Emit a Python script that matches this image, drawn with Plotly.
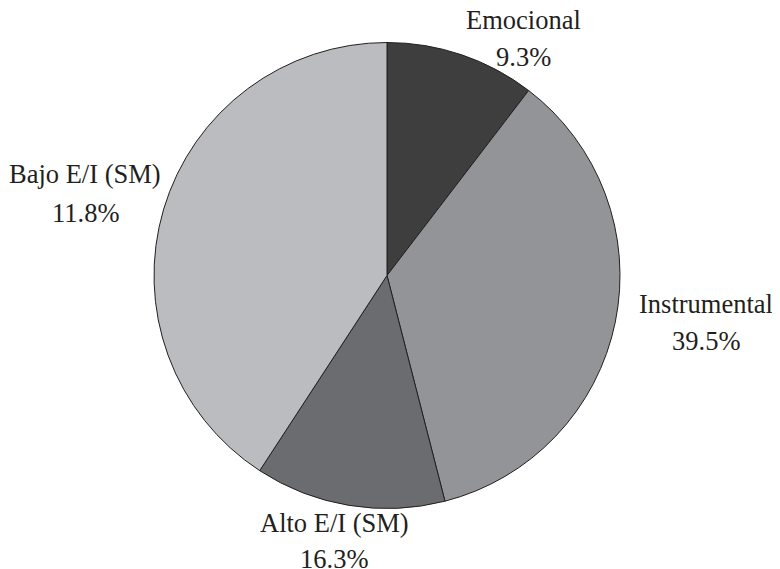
import plotly.graph_objects as go

# Slice names (clockwise from 12 o'clock)
categories = ["Emocional", "Instrumental", "Alto E/I (SM)", "Bajo E/I (SM)"]
# Slice sizes as drawn in the picture (share of the circle, %)
slice_sizes = [10.4, 35.6, 13.2, 40.8]
# Percent labels printed next to each slice
label_percents = ["9.3%", "39.5%", "16.3%", "11.8%"]

colors = ["#3e3e3f", "#939498", "#6b6c70", "#bbbcc0"]

W, H = 780, 569
OFF = 8  # page body margin offset
cx, cy, r = 387 - OFF, 275.5 - OFF, 233

fig = go.Figure(go.Pie(
    labels=categories,
    values=slice_sizes,
    sort=False,
    direction="clockwise",
    rotation=0,
    textinfo="none",
    hoverinfo="label+percent",
    marker=dict(colors=colors, line=dict(color="#231f20", width=1)),
    domain=dict(x=[(cx - r) / W, (cx + r) / W],
                y=[(H - cy - r) / H, (H - cy + r) / H]),
    showlegend=False,
))

# label placement (pixel centres of the name line and the percent line)
label_pos = [
    (523, 20, 56.5),
    (706, 304, 341),
    (334, 522.5, 559),
    (85, 173.5, 212.5),
]

font = dict(family="Liberation Serif, Times New Roman, serif", size=26.5, color="#231f20")
annotations = []
for name, pct, (px, py1, py2) in zip(categories, label_percents, label_pos):
    px, py1, py2 = px - OFF, py1 - OFF, py2 - OFF
    annotations.append(dict(text=name, x=px / W, y=1 - py1 / H, xref="paper", yref="paper",
                            xanchor="center", yanchor="middle", showarrow=False, font=font))
    annotations.append(dict(text=pct, x=px / W, y=1 - py2 / H, xref="paper", yref="paper",
                            xanchor="center", yanchor="middle", showarrow=False, font=font))

fig.update_layout(
    width=W, height=H,
    margin=dict(l=0, r=0, t=0, b=0),
    paper_bgcolor="white",
    plot_bgcolor="white",
    annotations=annotations,
)

fig.write_html("out.html")
